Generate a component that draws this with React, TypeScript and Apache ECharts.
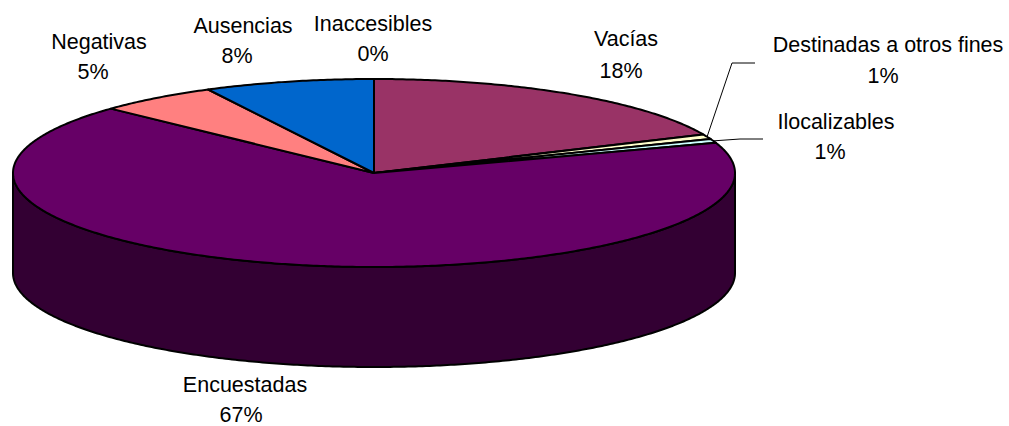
import React, { useEffect, useRef } from "react";
import * as echarts from "echarts";

const categories = ["Vacías", "Destinadas a otros fines", "Ilocalizables", "Encuestadas", "Negativas", "Ausencias", "Inaccesibles"];
const shares = [18.3, 0.8, 0.7, 67.2, 5.4, 7.6, 0];
const colors = ["#993366", "#FFFFCC", "#CCFFFF", "#660066", "#FF8080", "#0066CC", "#CCCCFF"];
const sideColors = ["#4C1933", "#808066", "#668080", "#330033", "#804040", "#003366", "#666680"];
// label centres in pixels: first line (name) and second line (percentage)
const labelX = [626, 888, 836, 245, 99, 243, 373];
const labelY = [39, 45, 122, 385, 42, 26, 24];
const secondLineX = [621, 883, 830, 241, 93, 237, 373];
const secondLineY = [71, 76, 152, 415, 72, 56, 54];
// leader lines as pixel offsets, only for the two thin slices
const leaders: Record<number, number[][]> = {
  1: [[732, 63], [755, 63]],
  2: [[740, 139], [763, 139]],
};

const CX = 374, CY = 173, RX = 361, RY = 94, DEPTH = 100;
const FONT = "'Liberation Sans', Arial, sans-serif";
const total = shares.reduce((a, b) => a + b, 0);

const pt = (t: number, dy = 0): number[] => [CX + RX * Math.sin(t), CY + dy - RY * Math.cos(t)];
const arc = (a: number, b: number, dy = 0): number[][] => {
  const n = Math.max(2, Math.ceil(Math.abs(b - a) / 0.01));
  const out: number[][] = [];
  for (let i = 0; i <= n; i++) out.push(pt(a + ((b - a) * i) / n, dy));
  return out;
};

function renderItem(params: any, api: any) {
  const i = params.dataIndex;
  const v = api.value(0);
  const before = shares.slice(0, i).reduce((a, b) => a + b, 0);
  const t0 = (before / total) * Math.PI * 2;
  const t1 = ((before + v) / total) * Math.PI * 2;
  const stroke = { stroke: "#000", lineWidth: 2, lineJoin: "round" };
  const children: any[] = [];
  const s0 = Math.max(t0, Math.PI / 2);
  const s1 = Math.min(t1, (Math.PI * 3) / 2);
  if (s1 > s0) {
    const top = arc(s0, s1);
    const bottom = arc(s0, s1, DEPTH).reverse();
    children.push({
      type: "polygon",
      shape: { points: [...top, ...bottom] },
      style: { fill: sideColors[i], ...stroke },
    });
  }
  children.push({
    type: "polygon",
    shape: { points: [[CX, CY], ...arc(t0, t1)] },
    style: { fill: colors[i], ...stroke },
  });
  if (leaders[i]) {
    children.push({
      type: "polyline",
      shape: { points: [pt((t0 + t1) / 2), ...leaders[i]] },
      style: { fill: "none", stroke: "#000", lineWidth: 1 },
    });
  }
  const common = { fontSize: 21.5, fontFamily: FONT, fill: "#000", align: "center", verticalAlign: "middle" };
  children.push({ type: "text", x: labelX[i], y: labelY[i], style: { text: categories[i], ...common } });
  children.push({ type: "text", x: secondLineX[i], y: secondLineY[i], style: { text: `${Math.round(v)}%`, ...common } });
  return { type: "group", children };
}

export default function App() {
  const ref = useRef<HTMLDivElement>(null);
  useEffect(() => {
    const chart = echarts.init(ref.current!, undefined, { renderer: "svg" });
    chart.setOption({
      animation: false,
      backgroundColor: "#fff",
      series: [
        {
          type: "custom",
          coordinateSystem: "none",
          silent: true,
          renderItem,
          data: shares.map((v, i) => ({ name: categories[i], value: [v] })),
        },
      ],
    });
    return () => chart.dispose();
  }, []);
  return <div ref={ref} style={{ position: "absolute", left: 0, top: 0, width: 1009, height: 426 }} />;
}
